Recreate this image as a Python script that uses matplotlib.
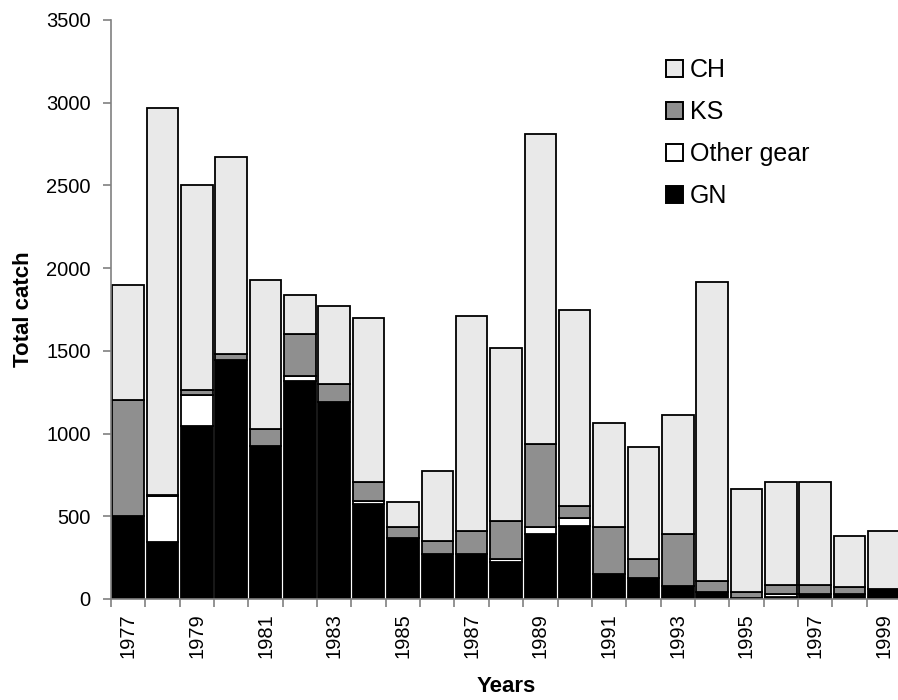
"""Total catch per year, stacked by gear type (GN / Other gear / KS / CH)."""
import numpy as np
import matplotlib
matplotlib.use("Agg")
import matplotlib.pyplot as plt
from matplotlib.patches import Patch

plt.rcParams["font.family"] = ["Liberation Sans", "DejaVu Sans"]

years = list(range(1977, 2000))
gn = [500, 345, 1045, 1445, 925, 1315, 1190, 575, 370, 270, 270, 225,
      395, 440, 150, 125, 80, 40, 5, 15, 30, 30, 60]
other = [0, 275, 190, 0, 0, 30, 0, 20, 0, 0, 0, 18,
         43, 50, 0, 0, 0, 0, 0, 17, 0, 0, 0]
ks = [700, 10, 30, 35, 105, 255, 110, 110, 68, 80, 142, 230,
      497, 70, 288, 117, 310, 70, 35, 53, 55, 45, 0]
ch = [700, 2340, 1235, 1190, 900, 240, 470, 995, 146, 425, 1298, 1042,
      1875, 1185, 627, 678, 725, 1805, 625, 620, 620, 303, 354]

series = [("GN", gn, "black"), ("Other gear", other, "white"),
          ("KS", ks, "#8f8f8f"), ("CH", ch, "#e9e9e9")]

fig = plt.figure(figsize=(8.98, 7.0), dpi=100)
ax = fig.add_axes([111 / 898, 101 / 700, 790 / 898, 579 / 700])

x = np.arange(len(years))
bottom = np.zeros(len(years))
for name, vals, col in series:
    vals = np.array(vals, dtype=float)
    ax.bar(x, vals, width=0.92, bottom=bottom, color=col,
           edgecolor="black", linewidth=1.3, label=name, zorder=2)
    bottom += vals

ax.set_xlim(-0.5, len(years) - 0.5)
ax.set_ylim(0, 3500)
ax.set_yticks(np.arange(0, 3501, 500))

# labels for every other year, tick marks between categories
ax.set_xticks(x[::2])
ax.set_xticklabels([str(y) for y in years[::2]], rotation=90)
ax.set_xticks(np.arange(-0.5, len(years)), minor=True)
ax.tick_params(axis="x", which="major", length=0, pad=10, labelsize=14.5)
ax.tick_params(axis="x", which="minor", length=6, width=1.2, color="#808080")
ax.tick_params(axis="y", length=6, width=1.2, color="#808080",
               pad=8.6, labelsize=14.5)

for s in ("top", "right"):
    ax.spines[s].set_visible(False)
for s in ("left", "bottom"):
    ax.spines[s].set_color("#808080")
    ax.spines[s].set_linewidth(1.2)

ax.set_xlabel("Years", fontsize=16, fontweight="bold", labelpad=13)
ax.set_ylabel("Total catch", fontsize=16, fontweight="bold", labelpad=9)

handles = [Patch(facecolor=c, edgecolor="black", linewidth=1.4, label=n)
           for n, _, c in series[::-1]]
ax.legend(handles=handles, loc="upper left",
          bbox_to_anchor=(666 / 898, 1 - 58 / 700),
          bbox_transform=fig.transFigure, frameon=False, fontsize=18,
          handlelength=0.68, handleheight=0.68, handletextpad=0.28,
          labelspacing=0.72, borderpad=0, borderaxespad=0)

fig.savefig("out.png", dpi=100)
